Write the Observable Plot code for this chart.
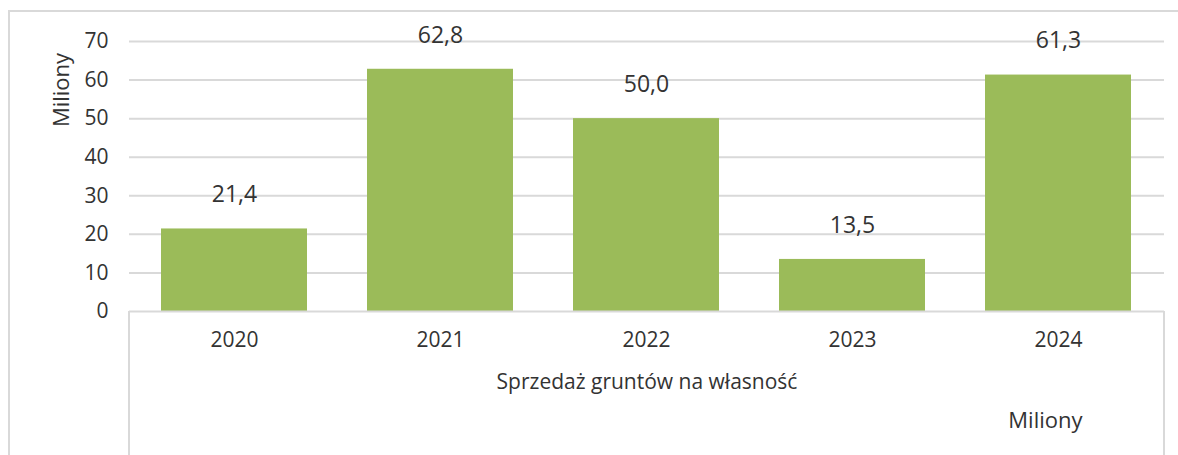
<!DOCTYPE html>
<html>
<head>
<meta charset="utf-8">
<script src="https://cdn.jsdelivr.net/npm/d3@7"></script>
<script src="https://cdn.jsdelivr.net/npm/@observablehq/plot@0.6"></script>
<style>
  html, body { margin: 0; padding: 0; background: #fff; overflow: hidden; }
  #wrap { position: relative; width: 1178px; height: 455px; }
  #border { position: absolute; left: 8px; top: 10px; width: 1300px; height: 600px;
            border: 2px solid #D9D9D9; box-sizing: border-box; pointer-events: none; }
  svg { font-family: "Open Sans", sans-serif; }
</style>
</head>
<body>
<div id="wrap"><div id="border"></div></div>
<script>
const years = ["2020", "2021", "2022", "2023", "2024"];
const values = [21.4, 62.8, 50.0, 13.5, 61.3];
const yTicks = [0, 10, 20, 30, 40, 50, 60, 70];
const yTitle = "Miliony";
const categoryTitle = "Sprzedaż gruntów na własność";
const cornerNote = "Miliony";

const data = years.map((y, i) => ({year: y, value: values[i]}));
const fmt = v => v.toFixed(1).replace(".", ",");
const textColor = "#333";

const plot = Plot.plot({
  width: 1178,
  height: 455,
  marginLeft: 129,
  marginRight: 14,
  marginTop: 41,
  marginBottom: 144,
  style: {fontFamily: "Open Sans, sans-serif", color: textColor, background: "transparent"},
  x: {domain: years, paddingInner: 0.29, paddingOuter: 0.15, label: null},
  y: {domain: [0, 70], label: null},
  marks: [
    Plot.ruleY(yTicks.filter(t => t > 0), {stroke: "#D9D9D9", strokeWidth: 2}),
    Plot.barY(data, {x: "year", y: "value", fill: "#9BBB59"}),
    Plot.ruleY([0], {stroke: "#D9D9D9", strokeWidth: 2}),
    Plot.axisY({ticks: yTicks, tickSize: 0, tickPadding: 21, fontSize: 21, label: null, fill: textColor}),
    Plot.axisX({tickSize: 0, tickPadding: 21, fontSize: 21, label: null, fill: textColor}),
    Plot.text(data, {x: "year", y: "value", text: d => fmt(d.value), dy: -34, fontSize: 23, fill: textColor}),
    Plot.text([categoryTitle], {frameAnchor: "bottom", dy: 77, fontSize: 21, fill: textColor}),
    Plot.text([cornerNote], {frameAnchor: "bottom-right", textAnchor: "end", dx: -82, dy: 116, fontSize: 22, fill: textColor})
  ]
});

const svg = d3.select(plot);
const yr = plot.scale("y").range; // [bottom, top]
const xr = plot.scale("x").range;

// Rotated y-axis title
svg.append("text")
  .attr("transform", `translate(60, ${(yr[1] + 49)}) rotate(-90)`)
  .attr("text-anchor", "middle")
  .attr("dominant-baseline", "central")
  .attr("font-size", 22)
  .attr("fill", textColor)
  .text(yTitle);

// Category box lines below the plot frame
[xr[0], xr[1]].forEach(px => {
  svg.append("line")
    .attr("x1", px).attr("x2", px)
    .attr("y1", yr[0]).attr("y2", 455)
    .attr("stroke", "#D9D9D9").attr("stroke-width", 2);
});

document.getElementById("wrap").appendChild(plot);
</script>
</body>
</html>
